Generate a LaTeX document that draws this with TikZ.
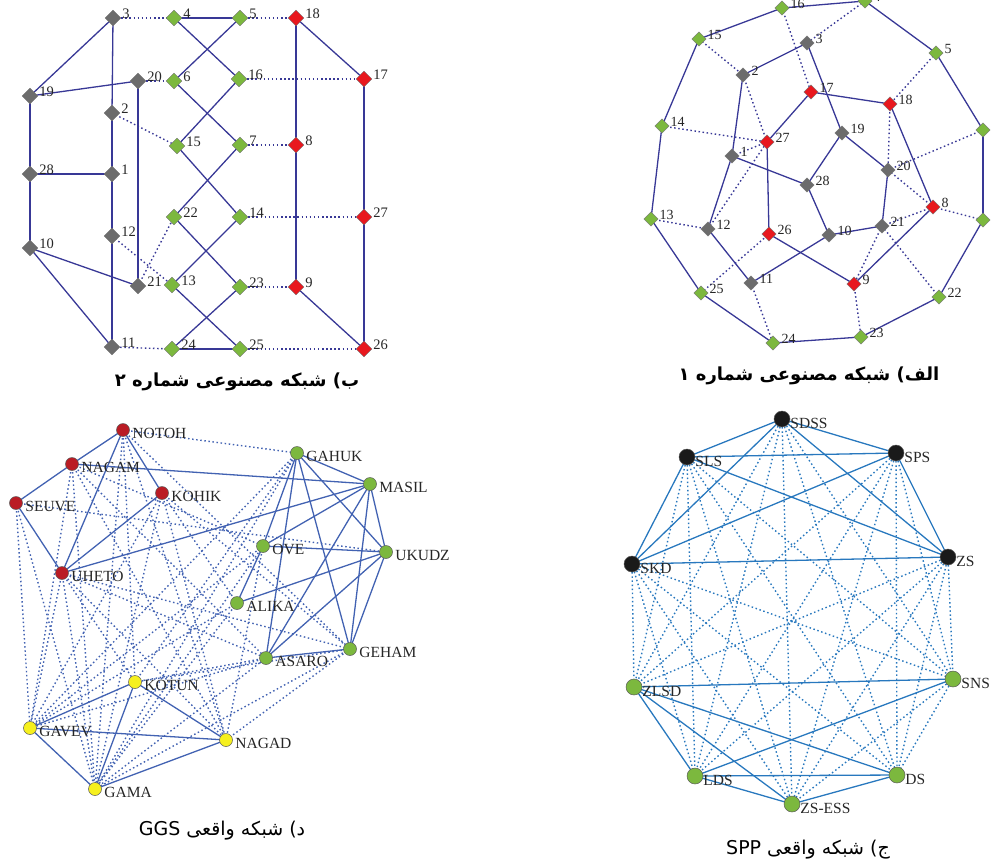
\documentclass[tikz,border=0pt]{standalone}
\usepackage{fontspec}
\setmainfont{Liberation Serif}
\newfontfamily\persianfont[Script=Arabic]{DejaVu Sans}
\TeXXeTstate=1
\usetikzlibrary{shapes.geometric}

\definecolor{navyedge}{RGB}{56,56,150}
\definecolor{ggsedge}{RGB}{66,98,178}
\definecolor{sppedge}{RGB}{40,120,190}
\definecolor{greynode}{RGB}{108,108,108}
\definecolor{greennode}{RGB}{124,184,62}
\definecolor{rednode}{RGB}{232,24,30}
\definecolor{darkred}{RGB}{186,28,36}
\definecolor{yellownode}{RGB}{246,240,30}
\definecolor{blacknode}{RGB}{26,26,26}

\pgfdeclarelayer{bg}
\pgfsetlayers{bg,main}

\tikzset{
  bnode/.style={diamond, draw=black!55, line width=0.4pt, inner sep=0pt,
    minimum width=16pt, minimum height=16pt},
  anode/.style={bnode, minimum width=14.5pt, minimum height=14.5pt},
  gnode/.style={circle, draw=black!65, line width=0.5pt, inner sep=0pt, minimum size=13pt},
  snode/.style={circle, draw=black!65, line width=0.5pt, inner sep=0pt, minimum size=16pt},
  blbl/.style={font=\fontsize{14.5}{15}\selectfont, text=black!85, inner sep=1pt, yshift=4pt},
  albl/.style={blbl, font=\fontsize{14}{14}\selectfont},
  glbl/.style={font=\fontsize{15.5}{16}\selectfont, text=black!85, inner sep=1pt, yshift=-3pt},
  slbl/.style={glbl, yshift=-1pt},
  strong/.style={line width=1.3pt},
  weak/.style={line width=1.4pt, dash pattern=on 1.5pt off 2.6pt},
  caption/.style={font=\persianfont\fontsize{19}{21}\selectfont},
  boldcaption/.style={font=\persianfont\bfseries\fontsize{18}{20}\selectfont},
}

\begin{document}
\begin{tikzpicture}[x=1pt,y=-1pt]
\useasboundingbox (0,0) rectangle (992,863);

% (b) artificial network no. 2
\foreach \n/\x/\y/\c in {3/113/18/greynode, 20/138/81/greynode, 19/30/96/greynode,
    2/112/113/greynode, 28/30/174/greynode, 1/112/174/greynode, 12/112/236/greynode,
    10/30/248/greynode, 21/138/286/greynode, 11/112/347/greynode,
    4/174/18/greennode, 5/240/18/greennode, 6/174/81/greennode, 16/239/79/greennode,
    15/177/146/greennode, 7/240/145/greennode, 22/174/217/greennode, 14/240/217/greennode,
    13/172/285/greennode, 23/240/287/greennode, 24/172/349/greennode, 25/240/349/greennode,
    18/296/18/rednode, 17/364/79/rednode, 8/296/145/rednode, 27/364/217/rednode,
    9/296/287/rednode, 26/364/349/rednode}
  \node[bnode, fill=\c, label={[blbl]right:\n}] (b\n) at (\x,\y) {};
\begin{pgfonlayer}{bg}
\foreach \u/\v in {3/19, 3/2, 2/1, 1/12, 12/11, 19/20, 19/28, 28/1, 28/10, 10/21,
    10/11, 20/21, 4/5, 4/16, 5/6, 6/7, 16/15, 15/14, 7/22, 22/23, 14/13, 13/25,
    23/24, 24/25, 18/17, 18/8, 8/9, 17/27, 27/26, 9/26}
  \draw[strong, navyedge] (b\u.center) -- (b\v.center);
\foreach \u/\v in {3/4, 5/18, 20/6, 16/17, 2/15, 7/8, 14/27, 12/13, 21/22, 23/9,
    11/24, 25/26}
  \draw[weak, navyedge] (b\u.center) -- (b\v.center);
\end{pgfonlayer}
\node[boldcaption] (capb) at (237,382) {\beginR ب) شبکه مصنوعی شماره ۲\endR};

% (a) artificial network no. 1
\foreach \n/\x/\y/\c in {3/807/43/greynode, 2/743/75/greynode, 19/842/133/greynode,
    1/732/156/greynode, 20/888/170/greynode, 28/807/185/greynode, 21/882/226/greynode,
    12/708/229/greynode, 10/829/235/greynode, 11/751/283/greynode,
    16/782/8/greennode, 4/865/1/greennode, 15/699/39/greennode, 5/936/53/greennode,
    14/662/126/greennode, 6/983/130/greennode, 13/651/219/greennode, 7/983/220/greennode,
    25/701/293/greennode, 22/939/297/greennode, 24/773/343/greennode, 23/861/337/greennode,
    17/811/92/rednode, 18/890/104/rednode, 27/767/142/rednode, 8/933/207/rednode,
    26/769/234/rednode, 9/854/284/rednode}
  \node[anode, fill=\c, label={[albl]right:\n}] (a\n) at (\x,\y) {};
\begin{pgfonlayer}{bg}
\foreach \u/\v in {16/4, 4/5, 5/6, 6/7, 7/22, 22/23, 23/24, 24/25, 25/13, 13/14,
    14/15, 15/16, 3/2, 2/1, 1/12, 12/11, 11/10, 10/21, 21/20, 20/19, 19/3, 19/28,
    28/1, 28/10, 17/18, 17/27, 27/26, 26/9, 9/8, 8/18}
  \draw[strong, navyedge] (a\u.center) -- (a\v.center);
\foreach \u/\v in {16/17, 4/3, 15/2, 5/18, 14/27, 2/27, 1/27, 12/27, 6/20, 18/20,
    20/8, 8/7, 8/21, 13/12, 25/26, 11/24, 9/23, 21/9, 21/22}
  \draw[weak, navyedge] (a\u.center) -- (a\v.center);
\end{pgfonlayer}
\node[boldcaption] (capa) at (809,376) {\beginR الف) شبکه مصنوعی شماره ۱\endR};

% (d) real network GGS
\foreach \n/\x/\y/\c in {NOTOH/123/430/darkred, NAGAM/72/464/darkred,
    SEUVE/16/503/darkred, KOHIK/162/493/darkred, UHETO/62/573/darkred,
    GAHUK/297/453/greennode, MASIL/370/484/greennode, OVE/263/546/greennode,
    UKUDZ/386/552/greennode, ALIKA/237/603/greennode, ASARO/266/658/greennode,
    GEHAM/350/649/greennode, KOTUN/135/682/yellownode, GAVEV/30/728/yellownode,
    NAGAD/226/740/yellownode, GAMA/95/789/yellownode}
  \node[gnode, fill=\c, label={[glbl, label distance=1.5pt]right:\n}] (g\n) at (\x,\y) {};
\begin{pgfonlayer}{bg}
\foreach \u/\v in {NOTOH/NAGAM, NOTOH/UHETO, NOTOH/KOHIK, NAGAM/SEUVE, SEUVE/UHETO,
    UHETO/KOHIK, UHETO/MASIL, NAGAM/MASIL, GAHUK/MASIL, GAHUK/OVE, GAHUK/ASARO,
    GAHUK/GEHAM, GAHUK/UKUDZ, MASIL/OVE, MASIL/UKUDZ, MASIL/ASARO, MASIL/GEHAM,
    OVE/UKUDZ, OVE/ALIKA, ALIKA/UKUDZ, UKUDZ/ASARO, UKUDZ/GEHAM, ASARO/GEHAM,
    KOTUN/GAVEV, KOTUN/GAMA, KOTUN/NAGAD, GAVEV/NAGAD, GAVEV/GAMA, GAMA/NAGAD}
  \draw[strong, ggsedge] (g\u.center) -- (g\v.center);
\foreach \u/\v in {NOTOH/GAHUK, NOTOH/KOTUN, NOTOH/NAGAD, NOTOH/GAMA, NOTOH/GEHAM,
    NAGAM/GAVEV, NAGAM/GAMA, NAGAM/NAGAD, NAGAM/OVE, NAGAM/ASARO,
    SEUVE/GAVEV, SEUVE/GAMA, SEUVE/UKUDZ, KOHIK/GAVEV, KOHIK/GAMA, KOHIK/NAGAD,
    KOHIK/GEHAM, KOHIK/ALIKA, UHETO/GAVEV, UHETO/GAMA, UHETO/KOTUN, UHETO/NAGAD,
    UHETO/ASARO, UHETO/GEHAM, GAHUK/GAVEV, GAHUK/GAMA, GAHUK/KOTUN, OVE/GAVEV,
    OVE/GAMA, OVE/NAGAD, ALIKA/GAVEV, ALIKA/GAMA, ASARO/GAVEV, ASARO/GAMA,
    ASARO/KOTUN, GEHAM/NAGAD, GEHAM/GAMA, GEHAM/KOTUN}
  \draw[weak, ggsedge] (g\u.center) -- (g\v.center);
\end{pgfonlayer}
\node[caption] (capd) at (222,831) {\beginR د) شبکه واقعی \beginL GGS\endL\endR};

% (c) real network SPP
\foreach \n/\t/\x/\y/\c in {SDSS/SDSS/782/419/blacknode, SLS/SLS/687/457/blacknode,
    SPS/SPS/896/453/blacknode, SKD/SKD/632/564/blacknode, ZS/ZS/948/557/blacknode,
    ZLSD/ZLSD/634/687/greennode, SNS/SNS/953/679/greennode, LDS/LDS/695/776/greennode,
    DS/DS/897/775/greennode, ZSESS/ZS-ESS/792/804/greennode}
  \node[snode, fill=\c, label={[slbl, label distance=-1pt]right:\t}] (s\n) at (\x,\y) {};
\begin{pgfonlayer}{bg}
\foreach \u/\v in {SDSS/SLS, SDSS/SPS, SDSS/SKD, SDSS/ZS, SLS/SPS, SLS/SKD, SLS/ZS,
    SPS/SKD, SPS/ZS, SKD/ZS, ZLSD/SNS, ZLSD/LDS, ZLSD/ZSESS, ZLSD/DS, SNS/LDS,
    LDS/DS, LDS/ZSESS, ZSESS/DS}
  \draw[strong, sppedge] (s\u.center) -- (s\v.center);
\foreach \u in {SDSS, SLS, SPS, SKD, ZS}
  \foreach \v in {ZLSD, SNS, LDS, DS, ZSESS}
    \draw[weak, sppedge] (s\u.center) -- (s\v.center);
\foreach \u/\v in {SNS/DS, SNS/ZSESS}
  \draw[weak, sppedge] (s\u.center) -- (s\v.center);
\end{pgfonlayer}
\node[caption] (capj) at (808,850) {\beginR ج) شبکه واقعی \beginL SPP\endL\endR};
\end{tikzpicture}
\end{document}
